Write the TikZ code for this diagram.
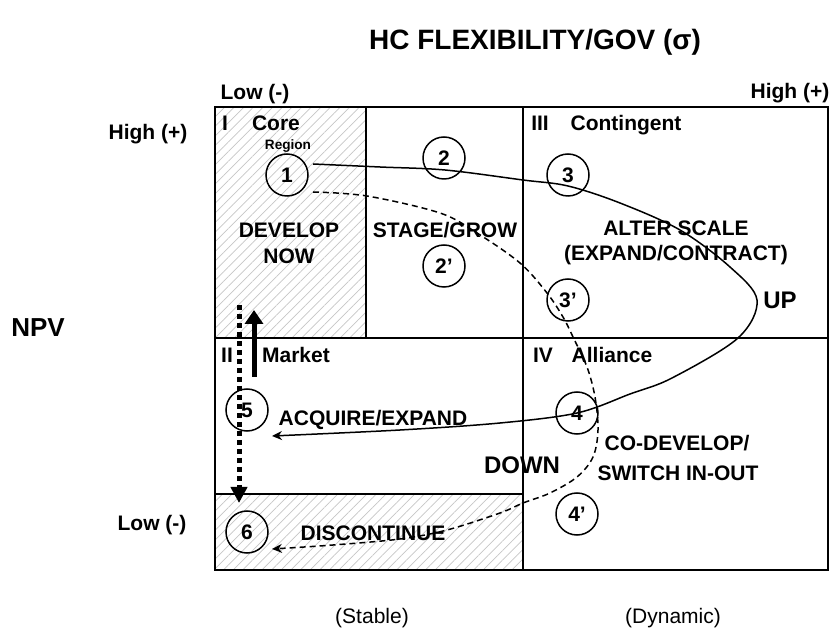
\documentclass[tikz,border=0pt]{standalone}
\usepackage{fontspec}
\setmainfont{Liberation Sans}
\usetikzlibrary{arrows.meta,patterns.meta}
\begin{document}
\begin{tikzpicture}[x=0.5pt,y=-0.5pt,
  lab/.style={font=\bfseries\fontsize{10.5}{12}\selectfont, inner sep=0pt, text height=7.6pt, text depth=0pt},
  small/.style={font=\bfseries\fontsize{6.8}{8}\selectfont, inner sep=0pt, text height=4.9pt, text depth=0pt},
  bigl/.style={font=\bfseries\fontsize{12}{14}\selectfont, inner sep=0pt, text height=8.6pt, text depth=0pt},
  plain/.style={font=\fontsize{10.5}{12}\selectfont, inner sep=0pt, text height=7.6pt, text depth=0pt},
  num/.style={circle, draw, line width=0.75pt, minimum size=21pt, inner sep=0pt, font=\bfseries\fontsize{10.5}{12}\selectfont},
  grid/.style={line width=1pt},
  hatch/.style={pattern={Lines[angle=45,distance=3.4pt,line width=0.35pt]}, pattern color=gray!45},
  curve/.style={line width=0.75pt, -{Stealth[length=5pt,width=4.5pt]}},
  dcurve/.style={curve, dash pattern=on 3pt off 2pt},
  thick arrow/.style={line width=2.5pt, -{Triangle[width=9pt,length=7pt]}},
  dotted arrow/.style={line width=2.5pt, dash pattern=on 2.5pt off 2pt, -{Triangle[width=8pt,length=8pt]}}
]
\useasboundingbox (0,0) rectangle (830,630);

% hatched regions
\fill[hatch] (215,107) rectangle (366,338);
\fill[hatch] (215,494) rectangle (523,570);

% grid
\draw[grid] (215,107) rectangle (828,570);
\draw[grid] (366,107) -- (366,338);
\draw[grid] (523,107) -- (523,570);
\draw[grid] (215,338) -- (828,338);
\draw[grid] (215,494) -- (523,494);

% axis labels
\node[font=\bfseries\fontsize{14}{16}\selectfont, inner sep=0pt, text height=10pt, text depth=0pt] (title) at (535,40) {HC FLEXIBILITY/GOV (σ)};
\node[lab] (xlow) at (255,92) {Low (-)};
\node[lab] (xhigh) at (790,91) {High (+)};
\node[lab] (yhigh) at (148,132) {High (+)};
\node[font=\bfseries\fontsize{13}{15}\selectfont, inner sep=0pt, text height=9.3pt, text depth=0pt] (npv) at (38,327) {NPV};
\node[lab] (ylow) at (152,523) {Low (-)};
\node[plain] (stable) at (372,616) {(Stable)};
\node[plain] (dynamic) at (673,616) {(Dynamic)};

% region labels
\node[lab] (r1) at (225,123) {I};
\node[lab] (core) at (276,123) {Core};
\node[small] (region) at (288,145) {Region};
\node[lab] (dev) at (289,230) {DEVELOP};
\node[lab] (now) at (289,256) {NOW};
\node[lab] (stage) at (445,230) {STAGE/GROW};
\node[lab] (r3) at (540,123) {III};
\node[lab] (cont) at (626,123) {Contingent};
\node[lab] (alter) at (676,228) {ALTER SCALE};
\node[lab] (expc) at (676,253) {(EXPAND/CONTRACT)};
\node[lab] (r2) at (227,355) {II};
\node[lab] (market) at (296,355) {Market};
\node[lab] (r4) at (543,355) {IV};
\node[lab] (alliance) at (612,355) {Alliance};
\node[lab] (acq) at (373,418) {ACQUIRE/EXPAND};
\node[lab] (codev) at (677,443) {CO-DEVELOP/};
\node[lab] (switch) at (678,473) {SWITCH IN-OUT};
\node[lab] (disc) at (373,533) {DISCONTINUE};
\node[bigl] (up) at (780,300) {UP};
\node[bigl] (down) at (522,465) {DOWN};

% circles
\node[num] (n1) at (287,175) {1};
\node[num] (n2) at (444,158) {2};
\node[num] (n2p) at (444,266) {2’};
\node[num] (n3) at (568,175) {3};
\node[num] (n3p) at (568,300) {3’};
\node[num] (n4) at (577,413) {4};
\node[num] (n4p) at (577,514) {4’};
\node[num] (n5) at (247,410) {5};
\node[num] (n6) at (247,532) {6};

% curve ends
\coordinate (s1) at (313,164);
\coordinate (e5) at (272,436);
\coordinate (s2) at (313,192);
\coordinate (e6) at (272,549);

\draw[curve] plot[smooth, tension=0.55] coordinates {(s1) (380,167) (445,170) (523,180) (568,186) (620,203) (680,230) (730,267) (757,300) (738,338) (672,378) (630,394) (577,413) (500,423) (400,430) (e5)};
\draw[dcurve] plot[smooth, tension=0.55] coordinates {(s2) (367,196) (440,213) (477,233) (520,263) (547,293) (563,317) (573,337) (587,367) (595,397) (598,430) (593,457) (577,477) (550,493) (523,503) (500,513) (447,530) (400,539) (333,545) (e6)};

% thick arrows
\coordinate (ua) at (254,377);
\coordinate (ub) at (254,310);
\draw[thick arrow] (ua) -- (ub);
\coordinate (da) at (239,305);
\coordinate (db) at (239,503);
\draw[dotted arrow] (da) -- (db);
\end{tikzpicture}
\end{document}
